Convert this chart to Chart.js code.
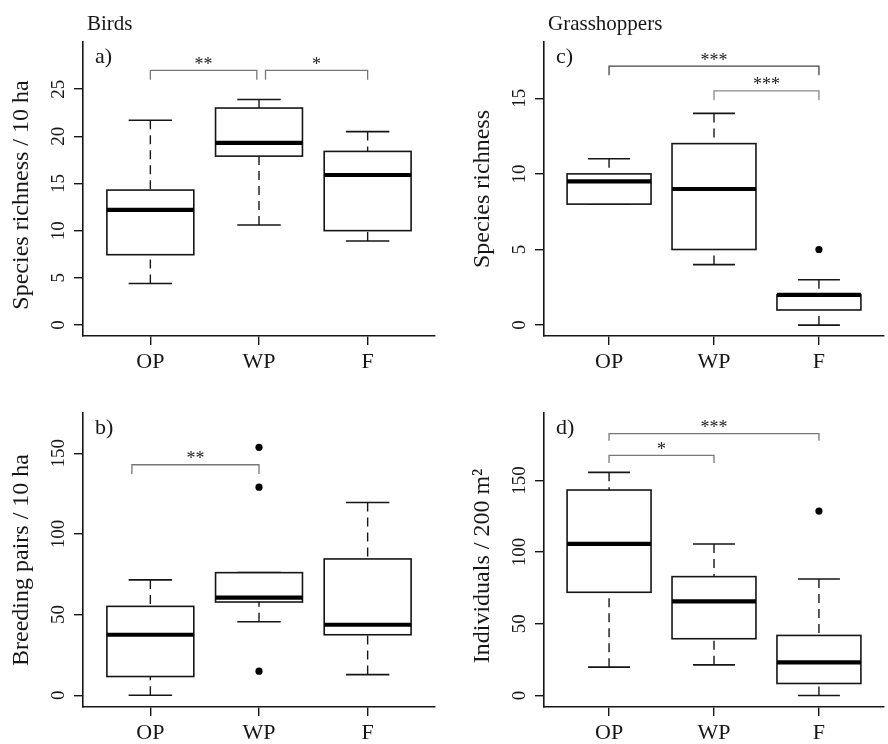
<!DOCTYPE html>
<html><head><meta charset="utf-8">
<script src="https://cdn.jsdelivr.net/npm/chart.js@4.4.1/dist/chart.umd.min.js"></script>
<style>
html,body{margin:0;padding:0;background:#fff;}
#wrap{position:relative;width:888px;height:744px;overflow:hidden;background:#fff;}
canvas{position:absolute;}
</style></head><body>
<div id="wrap">
<canvas id="ca" width="444" height="372" style="left:0;top:0"></canvas>
<canvas id="cc" width="427" height="372" style="left:461px;top:0"></canvas>
<canvas id="cb" width="444" height="372" style="left:0;top:371px"></canvas>
<canvas id="cd" width="427" height="372" style="left:461px;top:371px"></canvas>
</div>
<script>
// ---------- shared categories ----------
const categories = ['OP', 'WP', 'F'];
const xPositions = [1, 2, 3];

// ---------- a) Birds: species richness / 10 ha ----------
const aWhiskerLow  = [4.4, 10.6, 8.9];
const aQ1          = [7.45, 17.9, 10.0];
const aMedian      = [12.2, 19.3, 15.9];
const aQ3          = [14.3, 23.0, 18.4];
const aWhiskerHigh = [21.7, 23.9, 20.5];
const aOutlierX = [];
const aOutlierY = [];
const aTicks = [0, 5, 10, 15, 20, 25];
const aRange = [-1.17, 30.0];
const aBracketFrom = [1, 2.06];
const aBracketTo   = [1.98, 3];
const aBracketTop  = [27.0, 27.0];
const aBracketLeg  = [26.0, 26.0];
const aBracketText = ['**', '*'];

// ---------- b) Birds: breeding pairs / 10 ha ----------
const bWhiskerLow  = [0, 45.6, 12.8];
const bQ1          = [11.6, 57.8, 37.5];
const bMedian      = [37.5, 60.5, 43.7];
const bQ3          = [55.1, 76.0, 84.5];
const bWhiskerHigh = [71.5, 76.0, 119.5];
const bOutlierX = [2, 2, 2];
const bOutlierY = [153.7, 129.0, 14.9];
const bTicks = [0, 50, 100, 150];
const bRange = [-7.3, 175.0];
const bBracketFrom = [0.83];
const bBracketTo   = [2.0];
const bBracketTop  = [142.9];
const bBracketLeg  = [137.1];
const bBracketText = ['**'];

// ---------- c) Grasshoppers: species richness ----------
const cWhiskerLow  = [8, 4, 0];
const cQ1          = [8, 5, 1];
const cMedian      = [9.5, 9, 2];
const cQ3          = [10, 12, 2];
const cWhiskerHigh = [11, 14, 3];
const cOutlierX = [3];
const cOutlierY = [5];
const cTicks = [0, 5, 10, 15];
const cRange = [-0.72, 18.72];
const cBracketFrom = [1, 2];
const cBracketTo   = [3, 3];
const cBracketTop  = [17.12, 15.49];
const cBracketLeg  = [16.52, 14.87];
const cBracketText = ['***', '***'];

// ---------- d) Grasshoppers: individuals / 200 m² ----------
const dWhiskerLow  = [19.8, 21.4, 0];
const dQ1          = [72.0, 39.6, 8.4];
const dMedian      = [105.7, 65.7, 23.1];
const dQ3          = [143.3, 82.9, 41.9];
const dWhiskerHigh = [155.6, 105.7, 81.3];
const dOutlierX = [3];
const dOutlierY = [128.6];
const dTicks = [0, 50, 100, 150];
const dRange = [-8.0, 197.0];
const dBracketFrom = [1, 1];
const dBracketTo   = [3, 2];
const dBracketTop  = [182.6, 167.4];
const dBracketLeg  = [177.7, 162.1];
const dBracketText = ['***', '*'];

const SERIF = '"Liberation Serif", "Times New Roman", serif';
const INK = '#161616';

function makePanel(id, p) {
  const boxPlugin = {
    id: 'boxes_' + id,
    beforeDatasetsDraw(chart) {
      const {ctx, scales: {x, y}} = chart;
      ctx.save();
      ctx.strokeStyle = INK;
      ctx.lineCap = 'butt';
      for (let i = 0; i < p.med.length; i++) {
        const pos = xPositions[i];
        const cx = x.getPixelForValue(pos);
        const bl = x.getPixelForValue(pos - 0.4), br = x.getPixelForValue(pos + 0.4);
        const cl = x.getPixelForValue(pos - 0.2), cr = x.getPixelForValue(pos + 0.2);
        const yLo = y.getPixelForValue(p.lo[i]), yQ1 = y.getPixelForValue(p.q1[i]);
        const yMed = y.getPixelForValue(p.med[i]), yQ3 = y.getPixelForValue(p.q3[i]);
        const yHi = y.getPixelForValue(p.hi[i]);
        // dashed whiskers (drawn from whisker end towards the box)
        ctx.lineWidth = 1.4;
        ctx.setLineDash([9, 6]);
        ctx.beginPath(); ctx.moveTo(cx, yLo); ctx.lineTo(cx, yQ1); ctx.stroke();
        ctx.beginPath(); ctx.moveTo(cx, yHi); ctx.lineTo(cx, yQ3); ctx.stroke();
        ctx.setLineDash([]);
        // caps
        ctx.lineWidth = 1.6;
        ctx.beginPath();
        ctx.moveTo(cl, yHi); ctx.lineTo(cr, yHi);
        ctx.moveTo(cl, yLo); ctx.lineTo(cr, yLo);
        ctx.stroke();
        // box
        ctx.lineWidth = 1.6;
        ctx.fillStyle = '#fff';
        ctx.fillRect(bl, yQ3, br - bl, yQ1 - yQ3);
        ctx.strokeRect(bl, yQ3, br - bl, yQ1 - yQ3);
        // median
        ctx.lineWidth = 4.2;
        ctx.strokeStyle = '#000';
        ctx.beginPath(); ctx.moveTo(bl, yMed); ctx.lineTo(br, yMed); ctx.stroke();
        ctx.strokeStyle = INK;
      }
      ctx.restore();
    },
    afterDraw(chart) {
      const {ctx, chartArea, scales: {x, y}} = chart;
      ctx.save();
      ctx.fillStyle = '#222';
      // significance stars
      ctx.font = '18px ' + SERIF;
      ctx.textAlign = 'center';
      ctx.textBaseline = 'alphabetic';
      for (let i = 0; i < p.bText.length; i++) {
        const mx = (x.getPixelForValue(p.bFrom[i]) + x.getPixelForValue(p.bTo[i])) / 2;
        const ty = y.getPixelForValue(p.bTop[i]);
        ctx.fillText(p.bText[i], mx, ty - 0.5);
      }
      // panel letter
      ctx.fillStyle = INK;
      ctx.textAlign = 'left';
      ctx.font = '22px ' + SERIF;
      ctx.fillText(p.letter, chartArea.left + 12, chartArea.top + 21);
      // group title
      if (p.group) {
        ctx.font = '21px ' + SERIF;
        ctx.fillText(p.group, chartArea.left + 4, 29.5);
      }
      ctx.restore();
    }
  };

  const datasets = [];
  datasets.push({
    type: 'scatter',
    data: p.outX.map((v, i) => ({x: v, y: p.outY[i]})),
    pointRadius: 3.6,
    pointBackgroundColor: '#000',
    pointBorderWidth: 0,
    showLine: false
  });
  for (let i = 0; i < p.bText.length; i++) {
    datasets.push({
      type: 'line',
      data: [
        {x: p.bFrom[i], y: p.bLeg[i]},
        {x: p.bFrom[i], y: p.bTop[i]},
        {x: p.bTo[i], y: p.bTop[i]},
        {x: p.bTo[i], y: p.bLeg[i]}
      ],
      borderColor: p.bColor[i],
      borderWidth: 1.3,
      pointRadius: 0,
      fill: false,
      tension: 0
    });
  }

  new Chart(document.getElementById(id), {
    type: 'scatter',
    data: {datasets},
    options: {
      responsive: false,
      animation: false,
      events: [],
      layout: {padding: {left: 0, top: 42, right: p.padRight, bottom: 0}},
      plugins: {legend: {display: false}, tooltip: {enabled: false}, title: {display: false}},
      scales: {
        x: {
          type: 'linear',
          min: 0.38, max: 3.62,
          afterBuildTicks: s => { s.ticks = xPositions.map(v => ({value: v})); },
          afterFit: s => { s.height = 36; },
          grid: {display: true, drawOnChartArea: false, drawTicks: true, tickLength: 9, color: INK, lineWidth: 1.4},
          border: {display: true, color: INK, width: 1.6},
          ticks: {
            autoSkip: false, maxRotation: 0, minRotation: 0, padding: 4,
            color: INK, font: {family: SERIF, size: 22},
            callback: (v, i) => categories[i]
          }
        },
        y: {
          type: 'linear',
          min: p.range[0], max: p.range[1],
          afterBuildTicks: s => { s.ticks = p.ticks.map(v => ({value: v})); },
          afterFit: s => { s.width = 83; },
          grid: {display: true, drawOnChartArea: false, drawTicks: true, tickLength: 9, color: INK, lineWidth: 1.4},
          border: {display: true, color: INK, width: 1.6},
          ticks: {
            minRotation: 90, maxRotation: 90, crossAlign: 'center',
            padding: p.tickPad, color: INK, font: {family: SERIF, size: 19},
            callback: v => String(v)
          },
          title: {
            display: true, text: p.yTitle, color: INK,
            font: {family: SERIF, size: 24}, padding: {top: 7, bottom: 0}
          }
        }
      }
    },
    plugins: [boxPlugin]
  });
}

makePanel('ca', {lo: aWhiskerLow, q1: aQ1, med: aMedian, q3: aQ3, hi: aWhiskerHigh,
  outX: aOutlierX, outY: aOutlierY, ticks: aTicks, range: aRange,
  bFrom: aBracketFrom, bTo: aBracketTo, bTop: aBracketTop, bLeg: aBracketLeg, bText: aBracketText,
  bColor: ['#777', '#777'], letter: 'a)', group: 'Birds', yTitle: 'Species richness / 10 ha  ',
  padRight: 9, tickPad: 5.5});
makePanel('cb', {lo: bWhiskerLow, q1: bQ1, med: bMedian, q3: bQ3, hi: bWhiskerHigh,
  outX: bOutlierX, outY: bOutlierY, ticks: bTicks, range: bRange,
  bFrom: bBracketFrom, bTo: bBracketTo, bTop: bBracketTop, bLeg: bBracketLeg, bText: bBracketText,
  bColor: ['#777'], letter: 'b)', group: null, yTitle: 'Breeding pairs / 10 ha',
  padRight: 9, tickPad: 1});
makePanel('cc', {lo: cWhiskerLow, q1: cQ1, med: cMedian, q3: cQ3, hi: cWhiskerHigh,
  outX: cOutlierX, outY: cOutlierY, ticks: cTicks, range: cRange,
  bFrom: cBracketFrom, bTo: cBracketTo, bTop: cBracketTop, bLeg: cBracketLeg, bText: cBracketText,
  bColor: ['#444', '#888'], letter: 'c)', group: 'Grasshoppers', yTitle: 'Species richness',
  padRight: 1, tickPad: 5.5});
makePanel('cd', {lo: dWhiskerLow, q1: dQ1, med: dMedian, q3: dQ3, hi: dWhiskerHigh,
  outX: dOutlierX, outY: dOutlierY, ticks: dTicks, range: dRange,
  bFrom: dBracketFrom, bTo: dBracketTo, bTop: dBracketTop, bLeg: dBracketLeg, bText: dBracketText,
  bColor: ['#777', '#777'], letter: 'd)', group: null, yTitle: 'Individuals / 200 m²  ',
  padRight: 1, tickPad: 1});
</script>
</body></html>
